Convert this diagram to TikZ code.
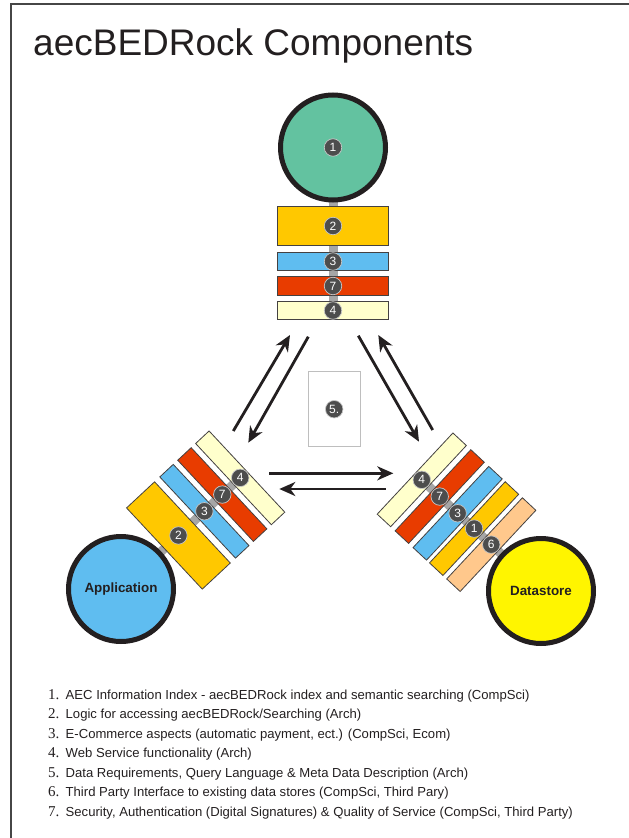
\documentclass[tikz,border=0pt]{standalone}
\usepackage{fontspec}
\setmainfont{Liberation Sans}
\newfontfamily\numfont{Liberation Serif}
\usetikzlibrary{calc,arrows.meta,backgrounds}

\definecolor{ink}{RGB}{35,31,32}
\definecolor{framegray}{RGB}{70,70,70}
\definecolor{idxgreen}{RGB}{99,194,160}
\definecolor{appblue}{RGB}{95,189,240}
\definecolor{storeyellow}{RGB}{255,245,0}
\definecolor{logicorange}{RGB}{255,200,0}
\definecolor{securityred}{RGB}{232,60,0}
\definecolor{servicecream}{RGB}{255,255,204}
\definecolor{thirdpeach}{RGB}{255,200,140}
\definecolor{badgegray}{RGB}{77,77,77}
\definecolor{spinegray}{RGB}{166,166,166}
\definecolor{boxgray}{RGB}{190,190,190}

\begin{document}
\begin{tikzpicture}[x=1pt, y=1pt,
    disc/.style ={circle, draw=ink, line width=5pt, minimum size=105pt, inner sep=0pt, text=ink,
                  font=\bfseries\fontsize{13.4}{16}\selectfont},
    block/.style ={rectangle, draw=ink!85, line width=0.8pt, minimum width=111pt, minimum height=18.4pt, inner sep=0pt},
    badge/.style ={circle, fill=badgegray, draw=gray!45, line width=0.7pt, minimum size=17.5pt, inner sep=0pt,
                   text=white, font=\fontsize{12}{13}\selectfont},
    spine/.style ={line width=9pt, draw=spinegray},
    flow/.style ={line width=2.8pt, draw=ink, -{Stealth[length=16pt, width=14pt, inset=5pt]}},
    listline/.style ={anchor=base west, inner sep=0pt, text=ink, font=\fontsize{13.1}{15}\selectfont}]
   \useasboundingbox (0,0) rectangle (629,-838);
   \draw[line width=1.5pt, draw=framegray] (11,-838) -- (11,-4) -- (629,-4);
   \node[anchor=base west, inner sep=0pt, text=ink, font=\fontsize{37}{40}\selectfont] (title) at (33,-55) {aecBEDRock Components};

   % top stack
   \node[disc, fill=idxgreen] (idx) at (333,-147.5) {};
   \node[block, fill=logicorange, minimum height=38.3pt] (t2) at ($(idx)+(-90:78.5)$) {};
   \node[block, fill=appblue] (t3) at ($(idx)+(-90:114)$) {};
   \node[block, fill=securityred] (t7) at ($(idx)+(-90:138.5)$) {};
   \node[block, fill=servicecream] (t4) at ($(idx)+(-90:163)$) {};
   \node[badge] (t1n) at (idx) {1};
   \node[badge] (t2n) at (t2) {2};
   \node[badge] (t3n) at (t3) {3};
   \node[badge] (t7n) at (t7) {7};
   \node[badge] (t4n) at (t4) {4};

   % application stack
   \node[disc, fill=appblue] (app) at (121,-589) {Application};
   \node[block, fill=logicorange, minimum height=38.3pt, rotate=-47] (a2) at ($(app)+(43:78.5)$) {};
   \node[block, fill=appblue, rotate=-47] (a3) at ($(app)+(43:114)$) {};
   \node[block, fill=securityred, rotate=-47] (a7) at ($(app)+(43:138.5)$) {};
   \node[block, fill=servicecream, rotate=-47] (a4) at ($(app)+(43:163)$) {};
   \node[badge] (a2n) at (a2) {2};
   \node[badge] (a3n) at (a3) {3};
   \node[badge] (a7n) at (a7) {7};
   \node[badge] (a4n) at (a4) {4};

   % datastore stack
   \node[disc, fill=storeyellow] (store) at (541,-591) {Datastore};
   \node[block, fill=thirdpeach, rotate=47] (s6) at ($(store)+(137:68)$) {};
   \node[block, fill=logicorange, rotate=47] (s1) at ($(store)+(137:91.5)$) {};
   \node[block, fill=appblue, rotate=47] (s3) at ($(store)+(137:114)$) {};
   \node[block, fill=securityred, rotate=47] (s7) at ($(store)+(137:138.5)$) {};
   \node[block, fill=servicecream, rotate=47] (s4) at ($(store)+(137:163)$) {};
   \node[badge] (s6n) at (s6) {6};
   \node[badge] (s1n) at (s1) {1};
   \node[badge] (s3n) at (s3) {3};
   \node[badge] (s7n) at (s7) {7};
   \node[badge] (s4n) at (s4) {4};

   \begin{scope}[on background layer]
      \draw[spine] (idx.center) -- (t4.center);
      \draw[spine] (app.center) -- (a4.center);
      \draw[spine] (store.center) -- (s4.center);
   \end{scope}

   % data requirements
   \node[draw=boxgray, line width=1pt, minimum width=51.7pt, minimum height=75pt, inner sep=0pt] (req) at (334.2,-409.2) {};
   \node[badge] (reqn) at (req) {5.};

   % message arrows
   \coordinate (la) at (233.3,-431);   \coordinate (lb) at (290,-335);
   \coordinate (lc) at (308.3,-336.7); \coordinate (ld) at (248.3,-442.7);
   \coordinate (ra) at (358.3,-335.7); \coordinate (rb) at (419,-441.7);
   \coordinate (rc) at (432.7,-430);   \coordinate (rd) at (378.3,-335);
   \coordinate (ha) at (269.3,-473.3); \coordinate (hb) at (393.3,-473.3);
   \coordinate (hc) at (385.7,-489);   \coordinate (hd) at (279.3,-489);
   \draw[flow] (la) to (lb);
   \draw[flow] (lc) to (ld);
   \draw[flow] (ra) to (rb);
   \draw[flow] (rc) to (rd);
   \draw[flow] (ha) to (hb);
   \draw[flow] (hc) to (hd);

   % legend
   \node[listline] (l1) at (48,-699) {\makebox[17.5pt][l]{\numfont\fontsize{15}{15}\selectfont 1.}AEC Information Index - aecBEDRock index and semantic searching (CompSci)};
   \node[listline] (l2) at (48,-718.5) {\makebox[17.5pt][l]{\numfont\fontsize{15}{15}\selectfont 2.}Logic for accessing aecBEDRock/Searching (Arch)};
   \node[listline] (l3) at (48,-738) {\makebox[17.5pt][l]{\numfont\fontsize{15}{15}\selectfont 3.}E-Commerce aspects (automatic payment, ect.) (CompSci, Ecom)};
   \node[listline] (l4) at (48,-757.5) {\makebox[17.5pt][l]{\numfont\fontsize{15}{15}\selectfont 4.}Web Service functionality (Arch)};
   \node[listline] (l5) at (48,-777) {\makebox[17.5pt][l]{\numfont\fontsize{15}{15}\selectfont 5.}Data Requirements, Query Language \& Meta Data Description (Arch)};
   \node[listline] (l6) at (48,-796.5) {\makebox[17.5pt][l]{\numfont\fontsize{15}{15}\selectfont 6.}Third Party Interface to existing data stores (CompSci, Third Pary)};
   \node[listline] (l7) at (48,-816) {\makebox[17.5pt][l]{\numfont\fontsize{15}{15}\selectfont 7.}Security, Authentication (Digital Signatures) \& Quality of Service (CompSci, Third Party)};
 \end{tikzpicture}
\end{document}
